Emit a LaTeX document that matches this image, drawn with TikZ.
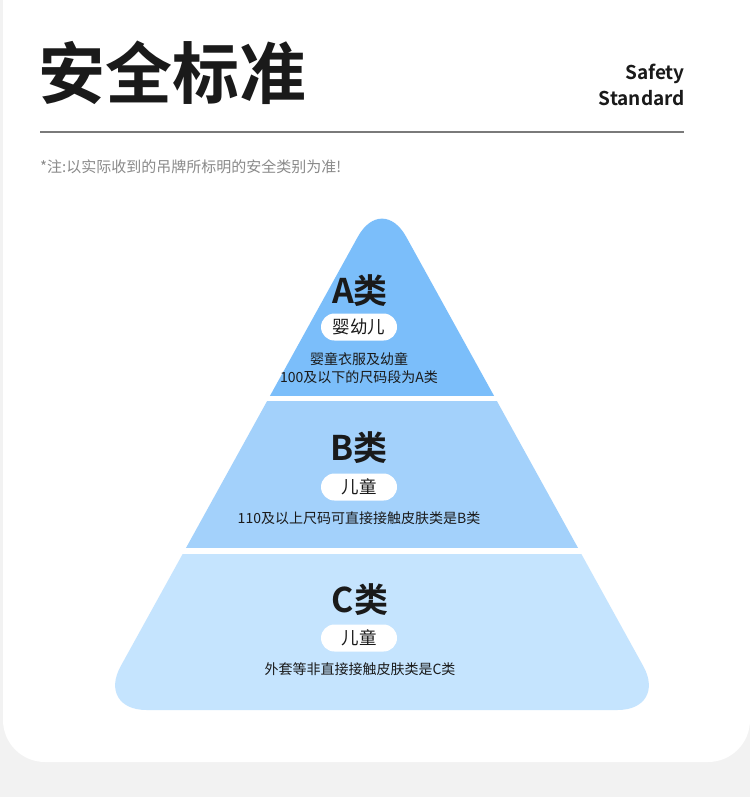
\documentclass[tikz,border=0pt]{standalone}
\usepackage{fontspec}
\setmainfont{Noto Sans CJK SC}[BoldFont={Noto Sans CJK SC Bold}]
\usepackage{xcolor}
\definecolor{layerA}{HTML}{7BBEFA}
\definecolor{layerB}{HTML}{A3D1FB}
\definecolor{layerC}{HTML}{C5E4FE}
\definecolor{pagebg}{HTML}{F2F2F2}
\definecolor{ink}{HTML}{1A1A1A}
\definecolor{note}{HTML}{8A8A8A}
\definecolor{rule}{HTML}{7A7A7A}

\begin{document}
\begin{tikzpicture}[x=1pt,y=-1pt,
  tier/.style={font=\fontsize{34}{34}\selectfont\bfseries,text=ink,inner sep=0pt},
  pill/.style={fill=white,rounded corners=13.5pt,minimum width=76pt,minimum height=27pt,
    inner sep=0pt,font=\fontsize{17.5}{17.5}\selectfont,text=ink},
  desc/.style={font=\fontsize{14}{18.5}\selectfont,text=ink,align=center,inner sep=0pt}]
  % Page and card
  \useasboundingbox (0,0) rectangle (750,797);
  \fill[pagebg] (0,0) rectangle (750,797);
  \begin{scope}
    \clip (0,0) rectangle (750,797);
    \fill[white,rounded corners=42pt] (3,-60) rectangle (750,762);
  \end{scope}

  % Header
  \node[anchor=west,inner sep=0pt,font=\fontsize{67}{67}\selectfont\bfseries,text=ink] (title) at (38,73) {安全标准};
  \node[anchor=east,align=right,inner sep=0pt,font=\fontsize{19}{26}\selectfont\bfseries,text=ink] (subtitle) at (685,85) {Safety\\Standard};
  \draw[rule,line width=1.2pt] (40,132) -- (684,132);
  \node[anchor=west,inner sep=0pt,font=\fontsize{15}{15}\selectfont,text=note] (remark) at (40,167) {*注:以实际收到的吊牌所标明的安全类别为准!};

  % Pyramid: one rounded triangle cut in three bands
  \begin{scope}
    \clip[rounded corners=50pt] (382,193) -- (96.5,710) -- (667.5,710) -- cycle;
    \fill[layerA] (90,180) rectangle (680,396);
    \fill[layerB] (90,401) rectangle (680,548);
    \fill[layerC] (90,554) rectangle (680,720);
  \end{scope}

  % Top band
  \node[tier] (tierA) at (360,291) {A类};
  \node[pill] (pillA) at (359,327) {婴幼儿};
  \node[desc] (descA) at (359,368) {婴童衣服及幼童\\100及以下的尺码段为A类};

  % Middle band
  \node[tier] (tierB) at (359,448) {B类};
  \node[pill] (pillB) at (359,487) {儿童};
  \node[desc] (descB) at (359,518) {110及以上尺码可直接接触皮肤类是B类};

  % Bottom band
  \node[tier] (tierC) at (360,600) {C类};
  \node[pill] (pillC) at (359,638) {儿童};
  \node[desc] (descC) at (360,669) {外套等非直接接触皮肤类是C类};
\end{tikzpicture}
\end{document}
